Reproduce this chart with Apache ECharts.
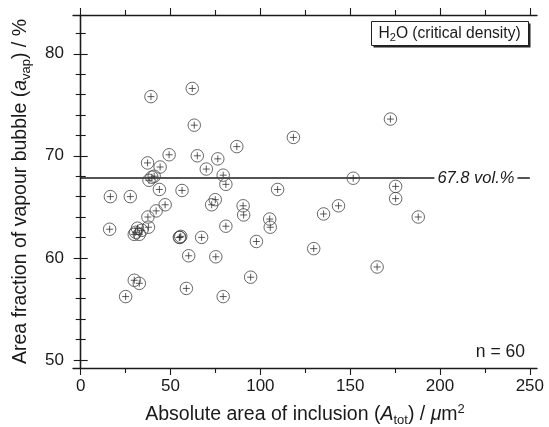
<!DOCTYPE html>
<html>
<head>
<meta charset="utf-8">
<script src="https://cdn.jsdelivr.net/npm/echarts@6/dist/echarts.min.js"></script>
<style>
html,body{margin:0;padding:0;background:#fff;}
#chart{width:549px;height:427px;}
</style>
</head>
<body>
<div id="chart"></div>
<script>
// ---- data ----
const areaTot = [16.5, 16.1, 27.6, 25.0, 29.8, 32.6, 29.8, 31.6, 32.6, 37.2,
  39.1, 38.0, 40.9, 37.4, 37.7, 42.0, 44.2, 43.8, 47.0, 49.2,
  54.9, 55.7, 56.4, 62.1, 63.2, 64.9, 60.1, 58.8, 67.3, 69.9,
  72.9, 74.9, 76.3, 79.3, 80.8, 80.8, 75.2, 79.3, 86.9, 90.4,
  90.7, 97.8, 94.6, 105.2, 105.5, 109.6, 118.4, 129.7, 135.2, 143.5,
  151.7, 165.0, 172.4, 175.3, 175.3, 187.9, 30.6, 34.0, 39.6, 55.2];
const areaVap = [66.0, 62.8, 66.0, 56.2, 57.8, 57.5, 62.3, 62.9, 62.3, 69.3,
  75.8, 67.6, 68.0, 64.0, 63.0, 64.6, 68.9, 66.7, 65.2, 70.1,
  62.0, 62.1, 66.6, 76.6, 73.0, 70.0, 60.2, 57.0, 62.0, 68.7,
  65.2, 65.7, 69.7, 68.1, 67.2, 63.1, 60.1, 56.2, 70.9, 65.1,
  64.2, 61.6, 58.1, 63.8, 63.0, 66.7, 71.8, 60.9, 64.3, 65.1,
  67.8, 59.1, 73.6, 67.0, 65.8, 64.0, 62.5, 62.7, 67.9, 62.0];
const meanValue = 67.8;
const meanLineRange = [0, 250];
const meanLabelX = 220;
const meanLabel = '67.8 vol.%';
const xTicks = [0, 50, 100, 150, 200, 250];
const xMinorTicks = [25, 75, 125, 175, 225];
const yTicks = [50, 60, 70, 80];
const yMinorTicks = [52, 54, 56, 58, 62, 64, 66, 68, 72, 74, 76, 78, 82];
const xRange = [-4.3, 254];
const yRange = [49.2, 83.8];
const nText = 'n = 60';

const points = areaTot.map((x, i) => [x, areaVap[i]]);
const FONT = '"Liberation Sans", Arial, Helvetica, sans-serif';
const INK = '#1a1a1a';

function xAx(pos, major, labels) {
  return {
    type: 'value', position: pos, min: xRange[0], max: xRange[1],
    axisLine: { show: major, lineStyle: { color: INK, width: 1.3 } },
    axisTick: { show: true, inside: false, length: major ? 7 : 5,
      customValues: major ? xTicks : xMinorTicks, lineStyle: { color: INK, width: 1.1 } },
    axisLabel: { show: labels, customValues: xTicks, color: INK, fontSize: 17, fontFamily: FONT, margin: 10 },
    splitLine: { show: false }
  };
}
function yAx(pos, major, labels) {
  return {
    type: 'value', position: pos, min: yRange[0], max: yRange[1],
    axisLine: { show: major, lineStyle: { color: INK, width: 1.3 } },
    axisTick: { show: true, inside: false, length: major ? 7 : 5,
      customValues: major ? yTicks : yMinorTicks, lineStyle: { color: INK, width: 1.1 } },
    axisLabel: { show: labels, customValues: yTicks, color: INK, fontSize: 17, fontFamily: FONT, margin: 9 },
    splitLine: { show: false }
  };
}

const titleRich = {
  n: { fontSize: 19.5, fontFamily: FONT, color: INK, lineHeight: 24 },
  i: { fontSize: 19.5, fontFamily: FONT, color: INK, fontStyle: 'italic', lineHeight: 24 },
  s: { fontSize: 13, fontFamily: FONT, color: INK, lineHeight: 13, verticalAlign: 'bottom' },
  p: { fontSize: 13, fontFamily: FONT, color: INK, lineHeight: 13, verticalAlign: 'top' }
};

const xMain = xAx('bottom', true, true);
xMain.name = '{n|Absolute area of inclusion (}{i|A}{s|tot}{n|) / }{i|μ}{n|m}{p|2}';
xMain.nameLocation = 'middle';
xMain.nameGap = 35;
xMain.nameTextStyle = { color: INK, fontFamily: FONT, fontSize: 19.5, rich: titleRich };
const yMain = yAx('left', true, true);
yMain.name = '{n|Area fraction of vapour bubble (}{i|a}{s|vap}{n|) / %}';
yMain.nameLocation = 'middle';
yMain.nameRotate = 90;
yMain.nameGap = 40;
yMain.nameTextStyle = { color: INK, fontFamily: FONT, fontSize: 19.5, rich: titleRich };

const chart = echarts.init(document.getElementById('chart'), null, { renderer: 'canvas' });
chart.setOption({
  backgroundColor: '#fff',
  animation: false,
  grid: { left: 73, right: 12, top: 15, bottom: 59, containLabel: false, outerBoundsMode: 'none' },
  xAxis: [xMain, xAx('bottom', false, false), xAx('top', true, false), xAx('top', false, false)],
  yAxis: [yMain, yAx('left', false, false), yAx('right', true, false), yAx('right', false, false)],
  series: [
    {
      type: 'scatter', xAxisIndex: 0, yAxisIndex: 0, data: points,
      symbol: 'circle', symbolSize: 12.5, z: 3,
      itemStyle: { color: 'rgba(0,0,0,0)', borderColor: '#444', borderWidth: 1 },
      markLine: {
        silent: true, symbol: ['none', 'none'], z: 2,
        lineStyle: { color: INK, width: 1.6, type: 'solid' },
        label: { show: false },
        data: [[{ coord: [meanLineRange[0], meanValue] }, { coord: [meanLineRange[1], meanValue] }]]
      },
      markPoint: {
        silent: true, z: 6, symbol: 'rect', symbolSize: 1,
        itemStyle: { color: 'rgba(0,0,0,0)' },
        label: {
          show: true, position: 'inside', formatter: meanLabel,
          color: INK, fontFamily: FONT, fontSize: 16.5, fontStyle: 'italic',
          backgroundColor: '#fff', padding: [1, 3]
        },
        data: [{ coord: [meanLabelX, meanValue] }]
      }
    },
    {
      type: 'scatter', xAxisIndex: 0, yAxisIndex: 0, data: points,
      symbol: 'path://M0,5L10,5M5,0L5,10', symbolSize: 7, z: 4,
      itemStyle: { color: 'rgba(0,0,0,0)', borderColor: '#333', borderWidth: 1 }
    }
  ],
  graphic: [
    {
      type: 'group', left: 371, top: 21,
      children: [
        { type: 'rect', shape: { x: 2, y: 2, width: 157, height: 24 }, style: { fill: '#222' } },
        { type: 'rect', shape: { x: 0, y: 0, width: 157, height: 24 }, style: { fill: '#fff', stroke: '#222', lineWidth: 1 } },
        {
          type: 'text', x: 7, y: 12,
          style: {
            text: '{n|H}{s|2}{n|O (critical density)}',
            verticalAlign: 'middle',
            rich: {
              n: { fontSize: 15.6, fontFamily: FONT, fill: INK, lineHeight: 20 },
              s: { fontSize: 11, fontFamily: FONT, fill: INK, lineHeight: 10, verticalAlign: 'bottom' }
            }
          }
        }
      ]
    },
    {
      type: 'text', right: 24, top: 343,
      style: { text: nText, fontSize: 17.5, fontFamily: FONT, fill: INK }
    }
  ]
});
</script>
</body>
</html>
